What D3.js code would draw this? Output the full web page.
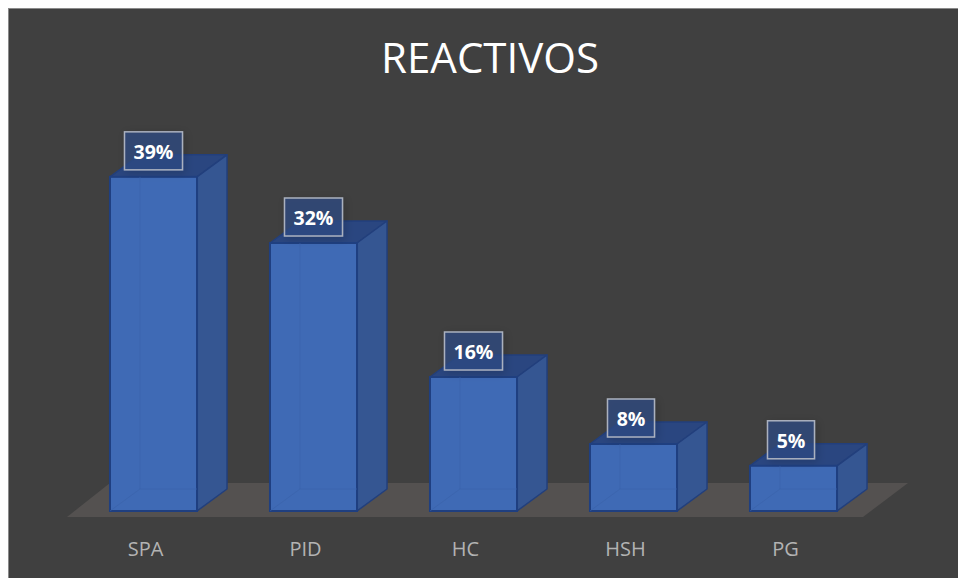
<!DOCTYPE html>
<html>
<head>
<meta charset="utf-8">
<script src="https://d3js.org/d3.v7.min.js"></script>
<style>
  html, body { margin: 0; padding: 0; background: #fff; }
  svg { display: block; }
</style>
</head>
<body>
<svg id="chart" width="958" height="578"></svg>
<script>
var categories = ["SPA", "PID", "HC", "HSH", "PG"]
// bar heights, the labels are the rounded figures it prints
var values = [39.9, 32, 16, 8, 5.4]
var valueLabels = ["39%", "32%", "16%", "8%", "5%"]

var dimensions = { width: 958, height: 578, baseline: 511, depthX: 30, depthY: 22 }

var svg = d3.select("#chart")

// soft shadow behind the value boxes
var shadow = svg.append("defs").append("filter")
    .attr("id", "boxShadow")
    .attr("x", "-30%").attr("y", "-30%")
    .attr("width", "160%").attr("height", "160%")
shadow.append("feDropShadow")
    .attr("dx", 2).attr("dy", 2)
    .attr("stdDeviation", 4)
    .attr("flood-color", "#000")
    .attr("flood-opacity", 0.22)

// dark panel
svg.append("rect")
    .attr("x", 8.5).attr("y", 8.5)
    .attr("width", dimensions.width).attr("height", dimensions.height)
    .attr("fill", "#404040")
    .attr("stroke", "#8a8a8a")

var xScale = d3.scaleBand()
    .domain(categories)
    .range([73.5, 873.5])
    .paddingInner(0.456)
    .paddingOuter(0.228)

var yScale = d3.scaleLinear()
    .domain([0, 40])
    .range([dimensions.baseline, dimensions.baseline - 335])

// floor
svg.append("path")
    .attr("d", "M67,517 L110,483 L908,483 L863,517 Z")
    .attr("fill", "#545150")

var bars = svg.append("g").selectAll("g")
    .data(categories)
    .enter()
    .append("g")

function frontX(d) { return xScale(d) }
function frontW() { return xScale.bandwidth() }
function topY(d, i) { return yScale(values[i]) }

// top face
bars.append("path")
    .attr("d", function(d, i) {
        var x = frontX(d), y = topY(d, i), w = frontW(), dx = dimensions.depthX, dy = dimensions.depthY
        return "M" + x + "," + y + " L" + (x + dx) + "," + (y - dy) + " L" + (x + w + dx) + "," + (y - dy) + " L" + (x + w) + "," + y + " Z"
    })
    .attr("fill", "#2a4680")
    .attr("stroke", "#223f7c")
    .attr("stroke-width", 1.5)
    .attr("stroke-linejoin", "round")

// side face
bars.append("path")
    .attr("d", function(d, i) {
        var x = frontX(d) + frontW(), y = topY(d, i), b = dimensions.baseline, dx = dimensions.depthX, dy = dimensions.depthY
        return "M" + x + "," + y + " L" + (x + dx) + "," + (y - dy) + " L" + (x + dx) + "," + (b - dy) + " L" + x + "," + b + " Z"
    })
    .attr("fill", "#355692")
    .attr("stroke", "#223f7c")
    .attr("stroke-width", 1.5)
    .attr("stroke-linejoin", "round")

// front face
bars.append("rect")
    .attr("x", frontX)
    .attr("y", topY)
    .attr("width", frontW())
    .attr("height", function(d, i) { return dimensions.baseline - topY(d, i) })
    .attr("fill", "#3f6ab5")
    .attr("stroke", "#1f3f80")
    .attr("stroke-width", 2)

// faint hidden edges seen through the front face
bars.append("path")
    .attr("d", function(d, i) {
        var x = frontX(d), y = topY(d, i), b = dimensions.baseline, dx = dimensions.depthX, dy = dimensions.depthY
        return "M" + x + "," + b + " L" + (x + dx) + "," + (b - dy) + " L" + (x + frontW()) + "," + (b - dy) + " M" + (x + dx) + "," + (b - dy) + " L" + (x + dx) + "," + y
    })
    .attr("fill", "none")
    .attr("stroke", "#3a62aa")
    .attr("stroke-opacity", 0.6)

// value labels
var boxes = svg.append("g").selectAll("g")
    .data(categories)
    .enter()
    .append("g")
    .attr("transform", function(d, i) {
        var cx = xScale(d) + xScale.bandwidth() / 2 - (valueLabels[i].length == 2 ? 2.5 : 0)
        return "translate(" + cx + "," + (topY(d, i) - 7) + ")"
    })

boxes.append("rect")
    .attr("x", function(d, i) { return valueLabels[i].length == 2 ? -23.5 : -29 })
    .attr("y", -38)
    .attr("width", function(d, i) { return valueLabels[i].length == 2 ? 47 : 58 })
    .attr("height", 38)
    .attr("fill", "#2f4b85")
    .attr("fill-opacity", 0.72)
    .attr("stroke", "#aab1bf")
    .attr("stroke-width", 1.5)
    .attr("filter", "url(#boxShadow)")

boxes.append("text")
    .attr("x", 0)
    .attr("y", -11)
    .attr("text-anchor", "middle")
    .attr("font-family", "'Open Sans', sans-serif")
    .attr("font-weight", "bold")
    .attr("font-size", 19.5)
    .attr("fill", "#fff")
    .text(function(d, i) { return valueLabels[i] })

// category labels
var xAxisGen = d3.axisBottom(xScale).tickSize(0).tickPadding(0)
var xAxis = svg.append("g")
    .attr("transform", "translate(-8,542)")
    .call(xAxisGen)
xAxis.select(".domain").remove()
xAxis.selectAll("text")
    .attr("font-family", "'Open Sans', sans-serif")
    .attr("font-size", 20)
    .attr("fill", "#b3b3b3")

svg.append("text")
    .attr("x", 490)
    .attr("y", 73)
    .attr("text-anchor", "middle")
    .attr("font-family", "'Open Sans', sans-serif")
    .attr("font-size", 42)
    .attr("fill", "#fff")
    .text("REACTIVOS")
</script>
</body>
</html>
